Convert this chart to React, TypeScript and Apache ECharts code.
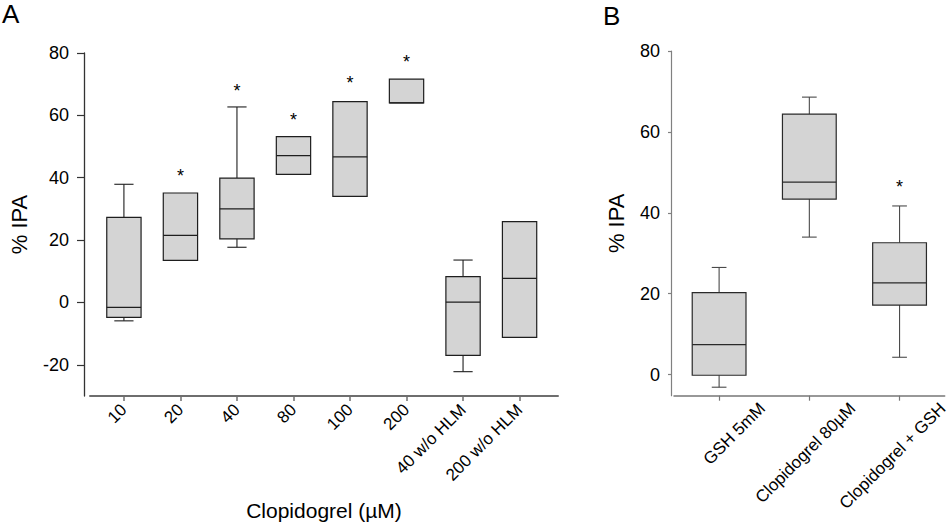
import React, { useEffect, useRef } from "react";
import * as echarts from "echarts";

// ---------- Panel A data ----------
const catsA = ["10", "20", "40", "80", "100", "200", "40 w/o HLM", "200 w/o HLM"];
const minA = [-5.9, 13.5, 17.7, 41.1, 34.0, 64.0, -22.2, -11.2];
const q1A = [-4.8, 13.5, 20.4, 41.1, 34.0, 64.0, -17.0, -11.2];
const medA = [-1.6, 21.5, 30.0, 47.1, 46.7, 64.0, 0.1, 7.7];
const q3A = [27.3, 35.1, 39.9, 53.2, 64.4, 71.6, 8.3, 25.9];
const maxA = [37.9, 35.1, 62.7, 53.2, 64.4, 71.6, 13.6, 25.9];
const starsA: (number | null)[] = [null, 41.8, 69.2, 59.8, 71.6, 78.5, null, null];
const yTicksA = [-20, 0, 20, 40, 60, 80];

// ---------- Panel B data ----------
const catsB = ["GSH 5mM", "Clopidogrel 80µM", "Clopidogrel + GSH"];
const minB = [-3.1, 34.0, 4.3];
const q1B = [-0.15, 43.4, 17.2];
const medB = [7.4, 47.6, 22.7];
const q3B = [20.3, 64.4, 32.6];
const maxB = [26.5, 68.6, 41.7];
const starsB: (number | null)[] = [null, null, 47.3];
const yTicksB = [0, 20, 40, 60, 80];

const FONT = "'Liberation Sans', Arial, Helvetica, sans-serif";
const BOX_FILL = "#d4d4d4";
const B_LABEL_SHIFT = 0.48;

function boxRenderer(boxW: number, capW: number, stroke: string, whisker: string) {
  return (params: any, api: any) => {
    const x = api.value(0);
    const vMin = api.value(1);
    const vQ1 = api.value(2);
    const vMed = api.value(3);
    const vQ3 = api.value(4);
    const vMax = api.value(5);
    const pMin = api.coord([x, vMin]);
    const pQ1 = api.coord([x, vQ1]);
    const pMed = api.coord([x, vMed]);
    const pQ3 = api.coord([x, vQ3]);
    const pMax = api.coord([x, vMax]);
    const hw = api.size([boxW, 0])[0] / 2;
    const hc = api.size([capW, 0])[0] / 2;
    const cx = pMed[0];
    const ls = { stroke: whisker, lineWidth: 1.1 };
    const children: any[] = [];
    if (vMax > vQ3) {
      children.push({ type: "line", shape: { x1: cx, y1: pQ3[1], x2: cx, y2: pMax[1] }, style: ls });
      children.push({ type: "line", shape: { x1: cx - hc, y1: pMax[1], x2: cx + hc, y2: pMax[1] }, style: ls });
    }
    if (vMin < vQ1) {
      children.push({ type: "line", shape: { x1: cx, y1: pQ1[1], x2: cx, y2: pMin[1] }, style: ls });
      children.push({ type: "line", shape: { x1: cx - hc, y1: pMin[1], x2: cx + hc, y2: pMin[1] }, style: ls });
    }
    children.push({
      type: "rect",
      shape: { x: cx - hw, y: pQ3[1], width: 2 * hw, height: pQ1[1] - pQ3[1] },
      style: { fill: BOX_FILL, stroke, lineWidth: 1.2 },
    });
    children.push({
      type: "line",
      shape: { x1: cx - hw, y1: pMed[1], x2: cx + hw, y2: pMed[1] },
      style: { stroke, lineWidth: 1.2 },
    });
    return { type: "group", children };
  };
}

function starRenderer(params: any, api: any) {
  const p = api.coord([api.value(0), api.value(1)]);
  return {
    type: "text",
    x: p[0],
    y: p[1] + 4,
    style: {
      text: "*",
      fontSize: 18,
      fontFamily: FONT,
      fill: "#000",
      align: "center",
      verticalAlign: "middle",
    },
  };
}

export default function App() {
  const ref = useRef<HTMLDivElement>(null);

  useEffect(() => {
    if (!ref.current) return;
    const chart = echarts.init(ref.current, undefined, { renderer: "svg" });

    const dataA = catsA.map((_, i) => [i, minA[i], q1A[i], medA[i], q3A[i], maxA[i]]);
    const dataB = catsB.map((_, i) => [i, minB[i], q1B[i], medB[i], q3B[i], maxB[i]]);
    const starDataA = starsA
      .map((v, i) => (v == null ? null : [i, v]))
      .filter((d) => d !== null);
    const starDataB = starsB
      .map((v, i) => (v == null ? null : [i, v]))
      .filter((d) => d !== null);
    const idxA = catsA.map((_, i) => i);
    const idxB = catsB.map((_, i) => i);
    const labelPosB = idxB.map((i) => i + B_LABEL_SHIFT);

    const option: any = {
      animation: false,
      backgroundColor: "#ffffff",
      textStyle: { fontFamily: FONT },
      grid: [
        { left: 76, top: 53, width: 482, height: 344.5 },
        { left: 674, top: 51, width: 277, height: 344.7 },
      ],
      graphic: [
        { type: "text", left: 2, top: 1, style: { text: "A", fontSize: 26, fontFamily: FONT, fill: "#000" } },
        { type: "text", left: 603, top: 3, style: { text: "B", fontSize: 26, fontFamily: FONT, fill: "#000" } },
      ],
      xAxis: [
        {
          gridIndex: 0,
          type: "value",
          min: -0.6,
          max: 7.68,
          splitLine: { show: false },
          axisLine: { show: true, onZero: false, lineStyle: { color: "#6e6e6e", width: 2 } },
          axisTick: { show: true, length: 5, customValues: idxA, lineStyle: { color: "#6e6e6e", width: 1.5 } },
          axisLabel: {
            customValues: idxA,
            rotate: 45,
            margin: 11,
            fontSize: 17,
            color: "#000",
            fontFamily: FONT,
            formatter: (v: number) => catsA[Math.round(v)] ?? "",
          },
          name: "Clopidogrel (µM)",
          nameLocation: "middle",
          nameGap: 104,
          nameTextStyle: { fontSize: 21, color: "#000", fontFamily: FONT },
        },
        {
          gridIndex: 1,
          type: "value",
          min: -0.5,
          max: 2.5,
          splitLine: { show: false },
          axisLine: { show: true, onZero: false, lineStyle: { color: "#777777", width: 1.5 } },
          axisTick: { show: true, length: 5, customValues: idxB, lineStyle: { color: "#777777", width: 1.2 } },
          axisLabel: {
            customValues: labelPosB,
            rotate: 45,
            margin: 10,
            fontSize: 17,
            color: "#000",
            fontFamily: FONT,
            formatter: (v: number) => catsB[Math.round(v - B_LABEL_SHIFT)] ?? "",
          },
        },
      ],
      yAxis: [
        {
          gridIndex: 0,
          type: "value",
          min: -30,
          max: 80,
          offset: 6,
          splitLine: { show: false },
          axisLine: { show: true, onZero: false, lineStyle: { color: "#333333", width: 1.3 } },
          axisTick: { show: true, length: 7, customValues: yTicksA, lineStyle: { color: "#333333", width: 1.2 } },
          axisLabel: { customValues: yTicksA, margin: 15, fontSize: 18, color: "#000", fontFamily: FONT },
          name: "% IPA",
          nameLocation: "middle",
          nameGap: 54,
          nameTextStyle: { fontSize: 22, color: "#000", fontFamily: FONT },
        },
        {
          gridIndex: 1,
          type: "value",
          min: -5.2,
          max: 80,
          offset: 3,
          splitLine: { show: false },
          axisLine: { show: true, onZero: false, lineStyle: { color: "#808080", width: 1.2 } },
          axisTick: { show: true, length: 3, customValues: yTicksB, lineStyle: { color: "#808080", width: 1.2 } },
          axisLabel: { customValues: yTicksB, margin: 11, fontSize: 18, color: "#000", fontFamily: FONT },
          name: "% IPA",
          nameLocation: "middle",
          nameGap: 44,
          nameTextStyle: { fontSize: 22, color: "#000", fontFamily: FONT },
        },
      ],
      series: [
        {
          type: "custom",
          xAxisIndex: 0,
          yAxisIndex: 0,
          renderItem: boxRenderer(0.607, 0.34, "#1e1e1e", "#1e1e1e"),
          encode: { x: 0, y: [1, 2, 3, 4, 5] },
          data: dataA,
        },
        {
          type: "custom",
          xAxisIndex: 0,
          yAxisIndex: 0,
          renderItem: starRenderer,
          encode: { x: 0, y: 1 },
          data: starDataA,
        },
        {
          type: "custom",
          xAxisIndex: 1,
          yAxisIndex: 1,
          renderItem: boxRenderer(0.596, 0.163, "#2a2a2a", "#4a4a4a"),
          encode: { x: 0, y: [1, 2, 3, 4, 5] },
          data: dataB,
        },
        {
          type: "custom",
          xAxisIndex: 1,
          yAxisIndex: 1,
          renderItem: starRenderer,
          encode: { x: 0, y: 1 },
          data: starDataB,
        },
      ],
    };

    chart.setOption(option);
    return () => {
      chart.dispose();
    };
  }, []);

  return (
    <div
      ref={ref}
      style={{ position: "absolute", left: 0, top: 0, width: 951, height: 526, background: "#fff" }}
    />
  );
}
